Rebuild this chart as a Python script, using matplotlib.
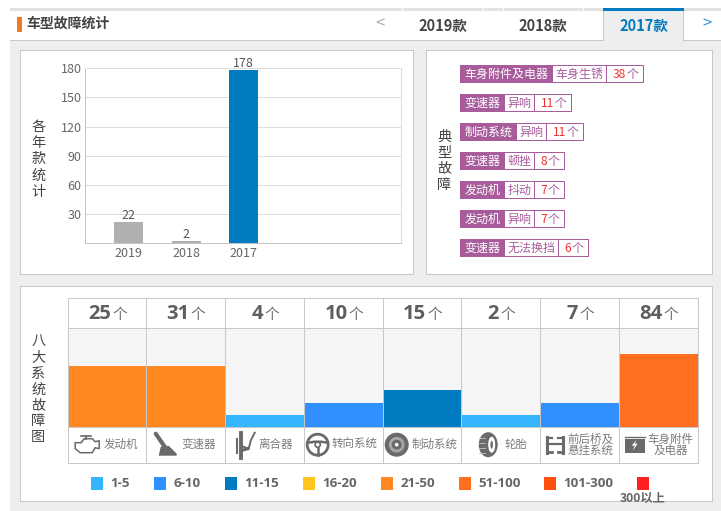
import numpy as np
import matplotlib
matplotlib.use('Agg')
import matplotlib.pyplot as plt
from matplotlib.patches import Rectangle, Circle, Ellipse, Polygon

plt.rcParams['font.family'] = ['Noto Sans CJK SC', 'DejaVu Sans']

W, H = 721, 511

# data
years = ['2019', '2018', '2017']
year_counts = [22, 2, 178]
year_colors = ['#b0b0b0', '#b0b0b0', '#007ac0']
year_ticks = [30, 60, 90, 120, 150, 180]

fault_parts = ['车身附件及电器', '变速器', '制动系统', '变速器', '发动机', '发动机', '变速器']
fault_names = ['车身生锈', '异响', '异响', '顿挫', '抖动', '异响', '无法换挡']
fault_counts = [38, 11, 11, 8, 7, 7, 6]

system_counts = [25, 31, 4, 10, 15, 2, 7, 84]
system_names = ['发动机', '变速器', '离合器', '转向系统', '制动系统', '轮胎', '前后桥及\n悬挂系统', '车身附件\n及电器']

level_labels = ['1-5', '6-10', '11-15', '16-20', '21-50', '51-100', '101-300', '300以上']
level_edges = [1, 6, 11, 16, 21, 51, 101, 301]
level_colors = ['#33b5ff', '#3090ff', '#007ac0', '#ffc61e', '#ff8820', '#ff6f20', '#ff5010', '#ff2020']

GREY = '#c8c8c8'
TEXT = '#666666'
PURPLE = '#a85c9c'
LW = 0.72  # one pixel at dpi 100
# agg rounds x.5 up when snapping, nudge so lines land on the right pixel
DX, DY = 0.3, -0.3


def px_axes(fig, x0, y0, x1, y1):
    # axes placed by pixel box, y counted from the top
    a = fig.add_axes([(x0 - DX) / W, 1 - (y1 + DY) / H, (x1 - x0) / W, (y1 - y0) / H])
    a.set_zorder(1)
    return a


def full_axes(fig, z, **kw):
    a = fig.add_axes([0, 0, 1, 1], **kw)
    a.set_xlim(DX, W + DX)
    a.set_ylim(H - DY, -DY)
    a.axis('off')
    a.set_zorder(z)
    return a


def vtext(ax, x, ys, s, color='#444444'):
    for y, c in zip(ys, s):
        ax.text(x, y, c, fontsize=10.2, color=color, ha='center', va='center')


fig = plt.figure(figsize=(W / 100, H / 100), dpi=100, facecolor='white')
bg = full_axes(fig, 0)


def rect(x0, y0, x1, y1, fc='none', ec='none', lw=LW, z=1):
    bg.add_patch(Rectangle((x0, y0), x1 - x0, y1 - y0, fc=fc, ec=ec, lw=lw, zorder=z))


# page and header
rect(10, 8, W + 1, H + 1, fc='#eeeeee')
rect(10, 8, W + 1, 11, fc='#e2e2e2')
rect(10, 11, W + 1, 40, fc='white')
bg.plot([10, W + 1], [40.5, 40.5], color=GREY, lw=LW, zorder=2)
for x in [402, 483, 503, 583]:
    bg.plot([x, x], [8, 11], color='white', lw=LW, zorder=2)
rect(17, 17, 22, 32, fc='#f47a20', z=2)
bg.text(27, 24, '车型故障统计', fontsize=10, fontweight='bold', color='#444444', va='center')
bg.text(380, 24.5, '<', fontsize=12, color='#aaaaaa', ha='center', va='center')
bg.text(443, 26, '2019款', fontsize=10.5, fontweight='bold', color='#444444', ha='center', va='center')
bg.text(543, 26, '2018款', fontsize=10.5, fontweight='bold', color='#444444', ha='center', va='center')
rect(603.5, 8, 683.5, 42, fc='#eeeeee', z=2)
bg.plot([603.5, 603.5], [11, 40], color=GREY, lw=LW, zorder=3)
bg.plot([683.5, 683.5], [11, 41], color=GREY, lw=LW, zorder=3)
rect(603, 8, 684, 11, fc='#007ac0', z=3)
bg.text(644, 26, '2017款', fontsize=10.5, fontweight='bold', color='#007ac0', ha='center', va='center', zorder=4)
bg.text(707, 24.5, '>', fontsize=12, color='#3a8fd0', ha='center', va='center')

# panels
rect(20.5, 50.5, 413.5, 274.5, fc='white', ec=GREY, z=1)
rect(426.5, 50.5, 712.5, 274.5, fc='white', ec=GREY, z=1)
rect(20.5, 286.5, 712.5, 501.5, fc='white', ec=GREY, z=1)

vtext(bg, 38.5, [127, 143, 159, 176, 192], '各年款统计')
vtext(bg, 444.5, [137, 153, 169, 185], '典型故障')
vtext(bg, 38.5, [341, 357, 374, 390, 406, 421, 437], '八大系统故障图')

# yearly bars
ax = px_axes(fig, 85.5, 68.5, 401.5, 243.5)
ax.set_xlim(-0.757, 4.74)
ax.set_ylim(0, 180)
ax.patch.set_alpha(0)
xs = np.arange(len(years))
ax.bar(xs, year_counts, width=0.51, color=year_colors, zorder=3)
for x, v in zip(xs, year_counts):
    ax.annotate(str(v), (x, v), xytext=(0, 0), textcoords='offset points', ha='center', va='bottom',
                fontsize=9, color='#555555', zorder=4, annotation_clip=False)
ax.set_yticks(year_ticks)
ax.set_xticks(xs, years)
ax.tick_params(length=0, labelsize=9, labelcolor=TEXT, pad=2.5)
ax.grid(axis='y', color='#dddddd', lw=LW, zorder=1)
for side in ax.spines:
    ax.spines[side].set_color('#dddddd')
    ax.spines[side].set_linewidth(LW)
ax.spines['bottom'].set_color('#c4c4c4')
ax.spines['left'].set_color('#c4c4c4')

# typical faults
for i in range(len(fault_parts)):
    y0 = 65.5 + 29 * i
    y1 = y0 + 17
    x0 = 460.5
    w1 = 12 * len(fault_parts[i]) + 8
    w2 = 12 * len(fault_names[i]) + 6
    w3 = 7 * len(str(fault_counts[i])) + 23
    rect(x0, y0, x0 + w1 + w2 + w3, y1, fc='white', ec=PURPLE, z=2)
    rect(x0, y0, x0 + w1, y1, fc=PURPLE, ec=PURPLE, z=3)
    bg.plot([x0 + w1 + w2] * 2, [y0, y1], color=PURPLE, lw=LW, zorder=3)
    ym = (y0 + y1) / 2 + 0.5
    bg.text(x0 + w1 / 2, ym, fault_parts[i], fontsize=8.64, color='white', ha='center', va='center', zorder=4)
    bg.text(x0 + w1 + w2 / 2, ym, fault_names[i], fontsize=8.64, color=PURPLE, ha='center', va='center', zorder=4)
    bg.text(x0 + w1 + w2 + w3 - 17, ym, str(fault_counts[i]), fontsize=8.64, color='#f03030',
            ha='right', va='center', zorder=4)
    bg.text(x0 + w1 + w2 + w3 - 11, ym, '个', fontsize=8.64, color=PURPLE, ha='center', va='center', zorder=4)

# eight systems
edges = [68.5, 146.5, 225.5, 304.5, 383.5, 461.5, 540.5, 619.5, 698.5]
levels = np.digitize(system_counts, level_edges)
# dotted cell background, one array value per pixel
tile = np.array([[0.985, 0.945, 0.985, 0.96], [0.945, 0.945, 0.945, 0.96],
                 [0.985, 0.945, 0.985, 0.96], [0.96, 0.96, 0.96, 0.96]])
fig.figimage(np.tile(tile, (25, 158))[:98, :630], xo=69, yo=H - 427, cmap='gray', vmin=0, vmax=1,
             origin='upper', zorder=0.5)

ax2 = px_axes(fig, 68.5, 329.5, 698.5, 427.5)
ax2.patch.set_alpha(0)
ax2.set_xlim(68.5, 698.5)
ax2.set_ylim(0, 8)
ax2.axis('off')
mids = [(edges[i] + edges[i + 1]) / 2 for i in range(8)]
widths = [edges[i + 1] - edges[i] for i in range(8)]
ax2.bar(mids, levels, width=widths, color=[level_colors[l - 1] for l in levels])

top = full_axes(fig, 2, facecolor='none')
for x in edges:
    top.plot([x, x], [298.5, 463.5], color=GREY, lw=LW)
for y in [298.5, 328.5, 427.5, 463.5]:
    top.plot([68.5, 698.5], [y, y], color=GREY, lw=LW)
for i, n in enumerate(system_counts):
    s = str(n)
    m = mids[i]
    top.text(m - 7.5, 314, s, fontsize=14.5, fontweight='bold', color='#5f5f5f', ha='center', va='center',
             family=['Open Sans', 'DejaVu Sans'])
    top.text(m + 1 + 5.7 * len(s), 315.5, '个', fontsize=10.5, color='#667078', ha='center', va='center')

ICON = '#6a6a6a'


def engine(x, y):
    top.add_patch(Polygon([(x - 12, y - 2), (x - 6, y - 2), (x - 3, y - 6), (x + 5, y - 6), (x + 8, y - 3),
                           (x + 12, y - 4), (x + 12, y + 4), (x + 8, y + 3), (x + 5, y + 8), (x - 7, y + 8),
                           (x - 12, y + 4)], closed=True, fc='none', ec=ICON, lw=1.1))
    top.plot([x - 6, x + 4], [y - 9, y - 9], color=ICON, lw=1.2)
    top.plot([x - 1, x - 1], [y - 9, y - 6], color=ICON, lw=1.2)


def shifter(x, y):
    top.plot([x - 10, x - 1], [y - 11, y + 2], color=ICON, lw=3, solid_capstyle='round')
    top.add_patch(Polygon([(x - 5, y + 2), (x + 3, y + 1), (x + 11, y + 9), (x + 11, y + 11), (x - 7, y + 11)],
                          fc=ICON, ec='none'))


def clutch(x, y):
    top.plot([x - 5, x - 5], [y - 12, y + 13], color=ICON, lw=2.8)
    top.plot([x - 9, x - 9], [y - 6, y + 8], color=ICON, lw=1.5)
    top.plot([x - 5, x + 3, x + 5, x + 9], [y + 1, y + 4, y - 4, y - 12], color=ICON, lw=1.4)
    top.plot([x - 5, x + 2], [y + 6, y + 4], color=ICON, lw=2.2)


def wheel(x, y):
    top.add_patch(Circle((x, y), 10.5, fc='none', ec=ICON, lw=2))
    top.add_patch(Circle((x, y), 2.6, fc='none', ec=ICON, lw=1.2))
    top.plot([x - 10, x - 3, x + 3, x + 10], [y - 2, y - 3, y - 3, y - 2], color=ICON, lw=1.8)
    top.plot([x, x], [y + 3, y + 10], color=ICON, lw=1.8)


def disc(x, y):
    top.add_patch(Circle((x, y), 12, fc=ICON, ec='none'))
    top.add_patch(Circle((x, y), 7.8, fc='#a8a8a8', ec='none'))
    top.add_patch(Circle((x, y), 5, fc=ICON, ec='none'))
    top.add_patch(Circle((x, y), 1.8, fc='white', ec='none'))


def tire(x, y):
    top.add_patch(Ellipse((x, y), 19, 25, fc=ICON, ec='none'))
    top.add_patch(Ellipse((x + 3.5, y), 7, 16, fc='white', ec='none'))
    top.add_patch(Ellipse((x + 3.5, y), 2.5, 8, fc=ICON, ec='none'))
    for dy in (-7, -2, 3, 8):
        top.plot([x - 9, x - 3], [y + dy, y + dy], color='#c8c8c8', lw=0.6)


def axle(x, y):
    top.plot([x - 8, x - 8], [y - 8, y + 8], color=ICON, lw=2.2)
    top.plot([x + 8, x + 8], [y - 8, y + 8], color=ICON, lw=2.2)
    top.plot([x - 8, x + 8], [y - 1, y - 1], color=ICON, lw=1.6)
    top.plot([x - 8, x - 3], [y - 7, y - 7], color=ICON, lw=1.6)
    top.plot([x + 3, x + 8], [y - 7, y - 7], color=ICON, lw=1.6)
    top.plot([x - 8, x - 3], [y + 7, y + 7], color=ICON, lw=2)
    top.plot([x + 3, x + 8], [y + 7, y + 7], color=ICON, lw=2)


def battery(x, y):
    top.add_patch(Rectangle((x - 10, y - 6), 20, 14, fc=ICON, ec='none'))
    top.plot([x - 10, x + 10], [y - 7.5, y - 7.5], color=ICON, lw=1)
    top.add_patch(Polygon([(x + 2, y - 5), (x - 3, y + 1), (x, y + 1), (x - 2, y + 6), (x + 3, y - 1), (x, y - 1)],
                          fc='white', ec='none'))


icons = [engine, shifter, clutch, wheel, disc, tire, axle, battery]
icon_x = [87.5, 166, 246, 318, 397, 488.5, 555, 635]
label_x = [121, 199, 276, 355, 435, 516, 590.5, 671]
for i in range(8):
    icons[i](icon_x[i], 445)
    top.text(label_x[i], 445, system_names[i], fontsize=8.3, color='#7c7c7c', ha='center', va='center',
             linespacing=0.85)

# legend
legend_x = [91, 154, 225, 303, 381, 459, 544, 637]
for i in range(8):
    x = legend_x[i]
    top.add_patch(Rectangle((x, 477), 12, 13, fc=level_colors[i], ec='none'))
    if i < 7:
        top.text(x + 20, 484, level_labels[i], fontsize=9.6, fontweight='bold', color=TEXT, va='center',
                 family=['Open Sans', 'DejaVu Sans'])
    else:
        top.text(x + 6, 499, level_labels[i], fontsize=8.8, fontweight='bold', color=TEXT, ha='center', va='center')

fig.savefig('out.png', dpi=100)
